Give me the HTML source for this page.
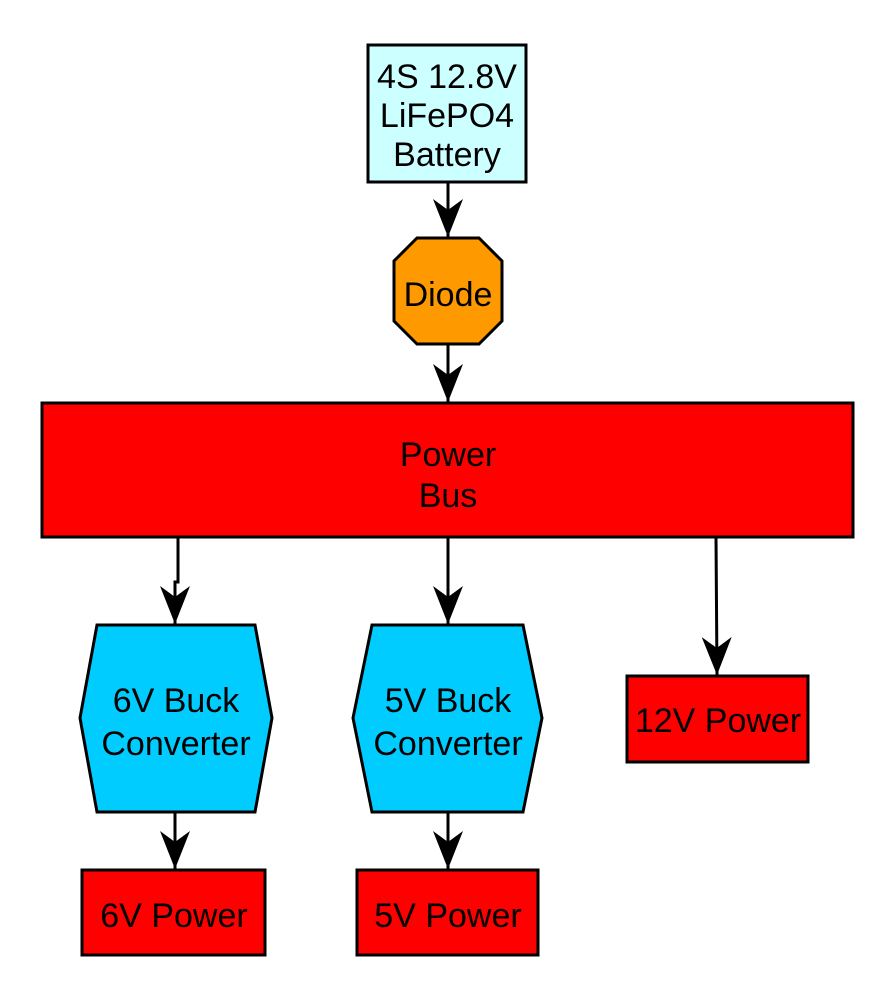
<!DOCTYPE html>
<html><head><style>body{margin:0;background:#fff}svg{display:block}</style></head><body>
<svg width="896" height="1000" viewBox="0 0 896 1000" xmlns="http://www.w3.org/2000/svg" font-family="Liberation Sans, sans-serif" font-size="34" text-anchor="middle">
<defs><marker id="a" markerWidth="38" markerHeight="30" refX="38" refY="15" orient="auto" markerUnits="userSpaceOnUse" viewBox="0 0 38 30"><path d="M0,0 L38,15 L0,30 L11,15 Z" fill="#000"/></marker></defs>
<g stroke="#000" stroke-width="3" fill="none">
<path d="M448,182 V237" marker-end="url(#a)"/>
<path d="M448,344 V402" marker-end="url(#a)"/>
<path d="M178,537 V582 H175 V624" marker-end="url(#a)"/>
<path d="M448,537 V624" marker-end="url(#a)"/>
<path d="M716,537 L717,675" marker-end="url(#a)"/>
<path d="M175,812 V869" marker-end="url(#a)"/>
<path d="M448,812 V869" marker-end="url(#a)"/>
</g>
<g stroke="#000" stroke-width="3">
<rect x="368" y="45" width="158" height="137" fill="#ccffff"/>
<polygon points="417,238 479,238 502,261 502,321 479,344 417,344 394,321 394,261" fill="#ff9900"/>
<rect x="42" y="403" width="811" height="134" fill="#ff0000"/>
<polygon points="97,625 255,625 272,718 255,812 97,812 80,718" fill="#00ccff"/>
<polygon points="372,625 523,625 542,718 523,812 372,812 353,718" fill="#00ccff"/>
<rect x="627" y="676" width="181" height="86" fill="#ff0000"/>
<rect x="82" y="870" width="183" height="85" fill="#ff0000"/>
<rect x="357" y="870" width="181" height="85" fill="#ff0000"/>
</g>
<g fill="#000">
<text x="447" y="88">4S 12.8V</text><text x="447" y="127">LiFePO4</text><text x="447" y="166">Battery</text>
<text x="448" y="306">Diode</text>
<text x="448" y="466">Power</text><text x="448" y="507">Bus</text>
<text x="176" y="712">6V Buck</text><text x="176" y="755">Converter</text>
<text x="448" y="712">5V Buck</text><text x="448" y="755">Converter</text>
<text x="718" y="732">12V Power</text>
<text x="174" y="927">6V Power</text>
<text x="448" y="927">5V Power</text>
</g>
</svg>
</body></html>
